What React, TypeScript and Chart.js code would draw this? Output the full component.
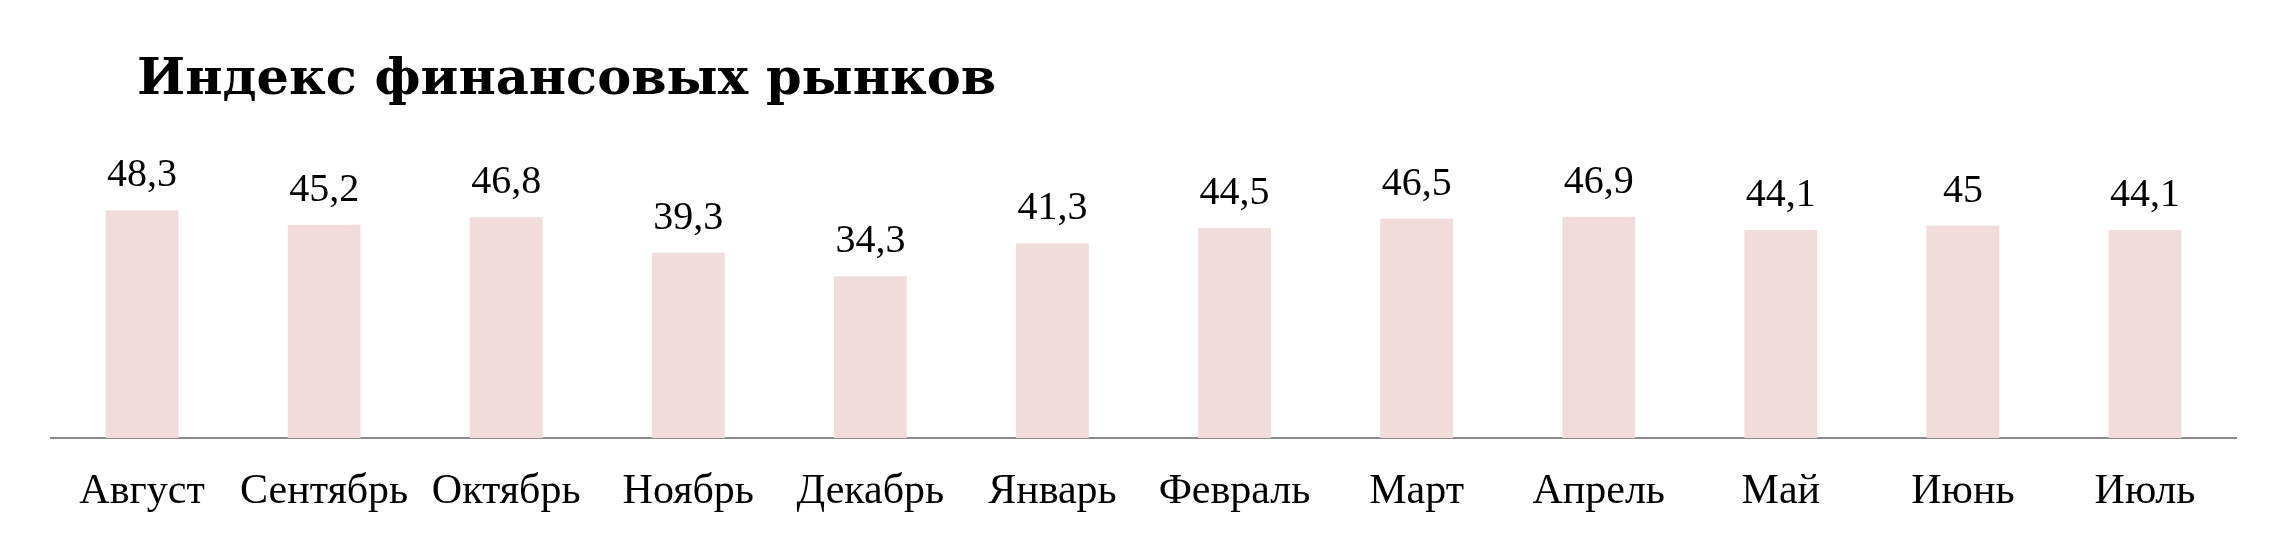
import React, { useEffect, useRef } from "react";
import { Chart, registerables } from "chart.js";

Chart.register(...registerables);

const titleText = "Индекс финансовых рынков";
const months = ["Август", "Сентябрь", "Октябрь", "Ноябрь", "Декабрь", "Январь", "Февраль", "Март", "Апрель", "Май", "Июнь", "Июль"];
const indexValues = [48.3, 45.2, 46.8, 39.3, 34.3, 41.3, 44.5, 46.5, 46.9, 44.1, 45, 44.1];

const fmt = (v: number) => String(v).replace(".", ",");

const valueLabels = {
  id: "valueLabels",
  afterDatasetsDraw(chart: any) {
    const ctx = chart.ctx;
    const meta = chart.getDatasetMeta(0);
    ctx.save();
    ctx.fillStyle = "#000";
    ctx.font = "40px 'Liberation Serif'";
    ctx.textAlign = "center";
    ctx.textBaseline = "alphabetic";
    meta.data.forEach((bar: any, i: number) => {
      ctx.fillText(fmt(indexValues[i]), bar.x, bar.y - 24);
    });
    ctx.restore();
  },
};

const titlePlugin = {
  id: "titleText",
  afterDraw(chart: any) {
    const ctx = chart.ctx;
    ctx.save();
    ctx.fillStyle = "#000";
    ctx.font = "bold 51px 'DejaVu Serif'";
    ctx.textAlign = "left";
    ctx.textBaseline = "alphabetic";
    ctx.fillText(titleText, 129, 86);
    ctx.restore();
  },
};

export default function App() {
  const ref = useRef<HTMLCanvasElement | null>(null);
  useEffect(() => {
    if (!ref.current) return;
    const chart = new Chart(ref.current, {
      type: "bar",
      data: {
        labels: months,
        datasets: [
          {
            data: indexValues,
            backgroundColor: "#F2DCDB",
            borderWidth: 0,
            categoryPercentage: 1,
            barPercentage: 0.4,
          },
        ],
      },
      options: {
        animation: false,
        responsive: true,
        maintainAspectRatio: false,
        layout: { padding: { top: 147, left: 43, right: 43, bottom: 17 } },
        plugins: {
          legend: { display: false },
          tooltip: { enabled: false },
          title: { display: false },
        },
        scales: {
          x: {
            grid: { display: false, drawTicks: false },
            border: { display: true, color: "#8a8a8a", width: 2 },
            ticks: {
              color: "#000",
              padding: 29,
              maxRotation: 0,
              autoSkip: false,
              font: { family: "'Liberation Serif'", size: 42 },
            },
            afterFit: (scale: any) => {
              scale.height = 79;
            },
          },
          y: {
            display: false,
            min: 0,
            max: 60,
          },
        },
      },
      plugins: [valueLabels, titlePlugin],
    });
    return () => chart.destroy();
  }, []);
  return (
    <div style={{ width: 2271, height: 526, position: "relative" }}>
      <canvas ref={ref} />
    </div>
  );
}
